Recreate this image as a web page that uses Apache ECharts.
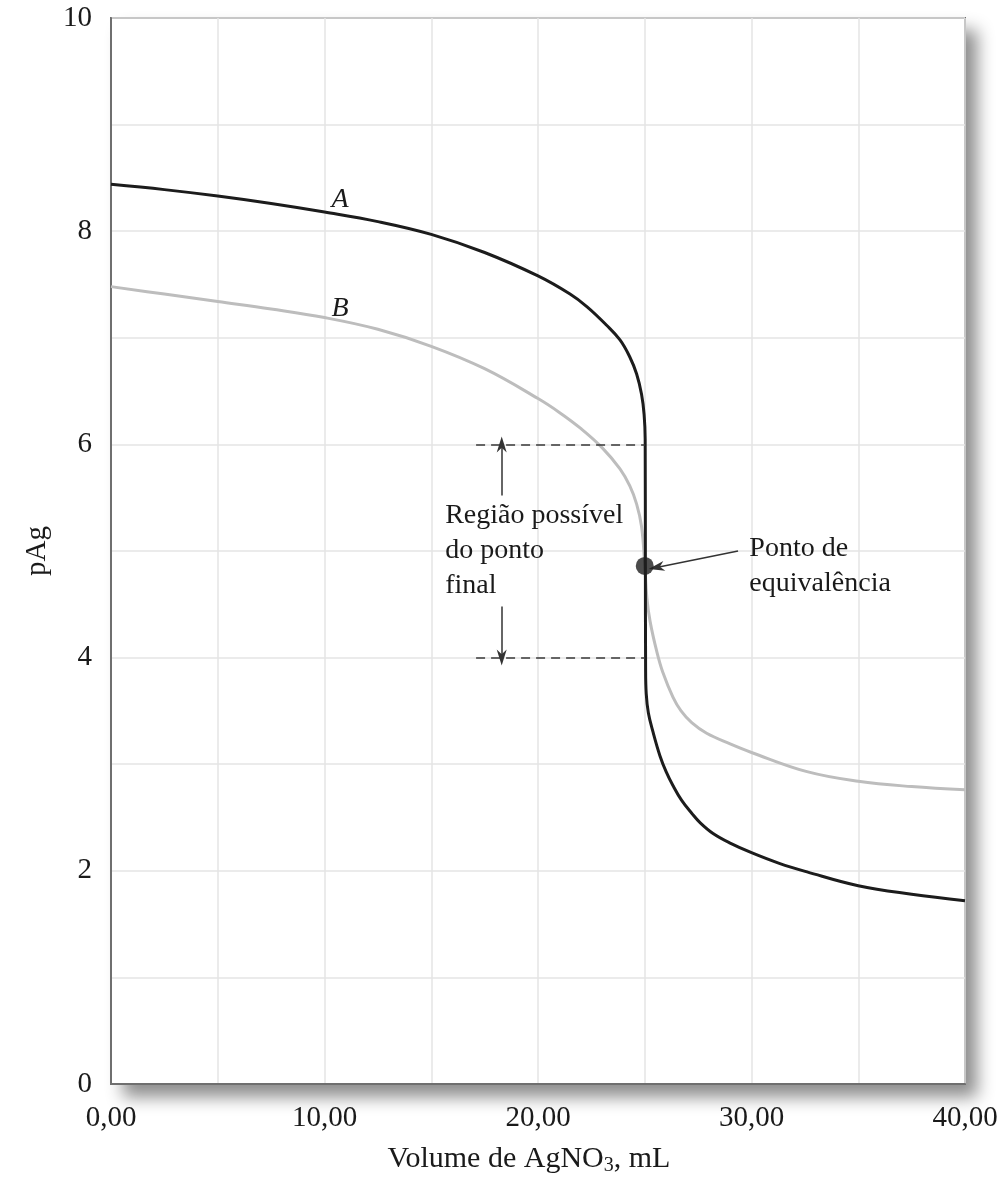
<!DOCTYPE html>
<html>
<head>
<meta charset="utf-8">
<title>pAg titration curves</title>
<script src="https://cdn.jsdelivr.net/npm/echarts@6/dist/echarts.min.js"></script>
<style>
  html, body { margin: 0; padding: 0; background: #ffffff; }
  #chart { width: 1007px; height: 1181px; }
</style>
</head>
<body>
<div id="chart"></div>
<script>
// Curve A: concentrated titration (volume of AgNO3 in mL, pAg)
const curveA = [
  [0, 8.44], [2.5, 8.39], [5, 8.33], [7.5, 8.26], [10, 8.18], [12.5, 8.09],
  [15, 7.97], [17.5, 7.8], [20, 7.58], [21.5, 7.41], [22.3, 7.29], [23.2, 7.12],
  [23.84, 6.98], [24.3, 6.82], [24.62, 6.66], [24.85, 6.47], [24.97, 6.28],
  [25.02, 6.05], [25.03, 4.9], [25.04, 3.9], [25.07, 3.66], [25.17, 3.48],
  [25.39, 3.3], [25.71, 3.08], [26.0, 2.93], [26.32, 2.8], [26.73, 2.66],
  [27.2, 2.54], [27.6, 2.45], [28.2, 2.35], [29, 2.26], [30, 2.17],
  [31.3, 2.07], [32.6, 1.99], [35, 1.86], [37.5, 1.78], [40, 1.72]
];

// Curve B: dilute titration
const curveB = [
  [0, 7.48], [2.5, 7.41], [5, 7.34], [7.5, 7.27], [10, 7.19], [12.5, 7.08],
  [15, 6.92], [17.5, 6.71], [20, 6.43], [21, 6.3], [22, 6.15], [23, 5.97],
  [23.84, 5.77], [24.3, 5.61], [24.62, 5.44], [24.85, 5.23], [25.0, 4.87],
  [25.1, 4.56], [25.25, 4.34], [25.56, 4.06], [25.85, 3.86], [26.32, 3.63],
  [26.7, 3.5], [27.2, 3.39], [27.9, 3.29], [29, 3.19], [30, 3.11],
  [32.6, 2.93], [35, 2.84], [37.5, 2.79], [40, 2.76]
];

// Equivalence point on the titration
const equivalencePoint = [25.0, 4.86];

// Possible end-point region (pAg bounds) and its extent along the volume axis
const endPointBounds = [6, 4];
const endPointSpan = [17.1, 25.0];

// Axis ticks
const xTicks = [0, 10, 20, 30, 40];
const yTicks = [0, 2, 4, 6, 8, 10];

const SERIF = '"Liberation Serif", "Times New Roman", serif';
const TEXT = '#1a1a1a';

const GRID = { left: 111, right: 42, top: 18, bottom: 96 };
const W = 1007, H = 1181;

const chart = echarts.init(document.getElementById('chart'), null, { renderer: 'canvas' });

const arrowHead = 'path://M0,0L5,14L0,10L-5,14Z';

const option = {
  animation: false,
  backgroundColor: '#ffffff',
  grid: {
    left: GRID.left, right: GRID.right, top: GRID.top, bottom: GRID.bottom,
    show: true,
    backgroundColor: '#ffffff',
    borderColor: '#6f6f6f',
    borderWidth: 2
  },
  // drop shadow behind the plotting frame
  graphic: [{
    type: 'rect', z: -10, silent: true,
    shape: { x: GRID.left, y: GRID.top, width: W - GRID.left - GRID.right, height: H - GRID.top - GRID.bottom },
    style: {
      fill: '#ffffff',
      shadowColor: 'rgba(0,0,0,0.45)', shadowBlur: 16,
      shadowOffsetX: 12, shadowOffsetY: 12
    }
  }],
  xAxis: {
    type: 'value', min: 0, max: 40, interval: 5,
    name: 'Volume de AgNO{s|3}, mL',
    nameLocation: 'middle', nameGap: 58,
    nameTextStyle: {
      fontFamily: SERIF, fontSize: 30, color: TEXT, padding: [0, 18, 0, 0],
      rich: { s: { fontFamily: SERIF, fontSize: 20, color: TEXT, padding: [14, 0, 0, 0] } }
    },
    axisLine: { show: true, lineStyle: { color: '#6f6f6f', width: 2 } },
    axisTick: { show: false },
    splitLine: { show: true, lineStyle: { color: '#e4e4e4', width: 1.5 } },
    axisLabel: {
      fontFamily: SERIF, fontSize: 29, color: TEXT, margin: 20,
      formatter: v => xTicks.includes(v) ? v.toFixed(2).replace('.', ',') : ''
    }
  },
  yAxis: {
    type: 'value', min: 0, max: 10, interval: 1,
    name: 'pAg', nameLocation: 'middle', nameGap: 54, nameRotate: 90,
    nameTextStyle: { fontFamily: SERIF, fontSize: 29, color: TEXT },
    axisLine: { show: true, lineStyle: { color: '#6f6f6f', width: 2 } },
    axisTick: { show: false },
    splitLine: { show: true, lineStyle: { color: '#e4e4e4', width: 1.5 } },
    axisLabel: {
      fontFamily: SERIF, fontSize: 29, color: TEXT, margin: 19,
      formatter: v => yTicks.includes(v) ? String(v) : ''
    }
  },
  series: [
    {
      name: 'B', type: 'line', data: curveB, showSymbol: false,
      smooth: 0.4,
      lineStyle: { color: '#bdbdbd', width: 3 }, z: 3
    },
    {
      name: 'A', type: 'line', data: curveA, showSymbol: false,
      smooth: 0.4,
      lineStyle: { color: '#1c1c1c', width: 3 }, z: 4,
      markLine: {
        silent: true, symbol: 'none',
        label: { show: false },
        lineStyle: { color: '#3a3a3a', width: 1.6, type: [9, 6] },
        data: endPointBounds.map(b => [
          { coord: [endPointSpan[0], b] }, { coord: [endPointSpan[1], b] }
        ])
      }
    },
    {
      // arrows pointing to the end-point bounds and to the equivalence point
      name: 'arrows', type: 'line', data: [], z: 5,
      markLine: {
        silent: true,
        symbol: ['none', arrowHead], symbolSize: [10, 16],
        label: { show: false },
        lineStyle: { color: '#333333', width: 1.5, type: 'solid' },
        data: [
          [{ coord: [18.3, 5.52] }, { coord: [18.3, 6.0] }],
          [{ coord: [18.3, 4.48] }, { coord: [18.3, 4.0] }],
          [{ coord: [29.37, 5.0] }, { coord: [25.55, 4.845] }]
        ]
      }
    },
    {
      name: 'equivalence', type: 'scatter', data: [equivalencePoint],
      symbol: 'circle', symbolSize: 18, z: 6,
      itemStyle: { color: '#1e1e1e' }
    }
  ]
};

chart.setOption(option);

// Text annotations positioned from data coordinates
const notes = [
  { at: [10.73, 8.30], text: 'A', italic: true, align: 'center' },
  { at: [10.73, 7.27], text: 'B', italic: true, align: 'center' },
  { at: [15.65, 5.0], text: 'Região possível\ndo ponto\nfinal', align: 'left' },
  { at: [29.9, 4.86], text: 'Ponto de\nequivalência', align: 'left' }
];

chart.setOption({
  graphic: option.graphic.concat(notes.map(n => {
    const p = chart.convertToPixel({ gridIndex: 0 }, n.at);
    return {
      type: 'text', x: p[0], y: p[1], z: 10,
      style: {
        text: n.text,
        fontFamily: SERIF,
        fontSize: 28,
        fontStyle: n.italic ? 'italic' : 'normal',
        fill: TEXT,
        align: n.align,
        verticalAlign: 'middle',
        lineHeight: 35
      }
    };
  }))
});
</script>
</body>
</html>
